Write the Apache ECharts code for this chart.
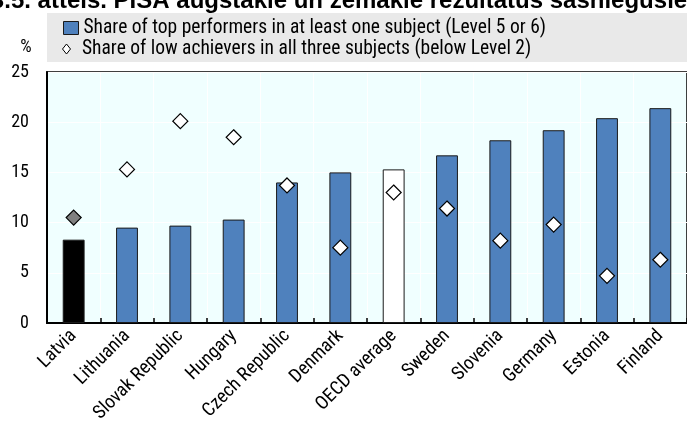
<!DOCTYPE html>
<html>
<head>
<meta charset="utf-8">
<script src="https://cdn.jsdelivr.net/npm/echarts@6/dist/echarts.min.js"></script>
<style>html,body{margin:0;padding:0;background:#fff}#c{width:687px;height:423px}</style>
</head>
<body>
<div id="c"></div>
<script>
const categories = ['Latvia','Lithuania','Slovak Republic','Hungary','Czech Republic','Denmark','OECD average','Sweden','Slovenia','Germany','Estonia','Finland'];
const topPerformers = [8.3, 9.5, 9.7, 10.3, 14.0, 15.0, 15.3, 16.7, 18.2, 19.2, 20.4, 21.4];
const lowAchievers = [10.5, 15.3, 20.1, 18.5, 13.7, 7.5, 13.0, 11.4, 8.2, 9.8, 4.7, 6.3];
const yTicks = [0, 5, 10, 15, 20, 25];
const seriesNames = ['Share of top performers in at least one subject (Level 5 or 6)', 'Share of low achievers in all three subjects (below Level 2)'];
const titleText = '3.5. attēls. PISA augstākie un zemākie rezultātus sasniegušie)';

const FONT = '"Roboto Condensed", "Liberation Sans", sans-serif';
const blue = '#4f81bd';

const barData = topPerformers.map((v, i) => {
  const c = categories[i];
  if (c === 'Latvia') return {value: v, itemStyle: {color: '#000000'}};
  if (c === 'OECD average') return {value: v, itemStyle: {color: '#ffffff'}};
  return v;
});
const scatterData = lowAchievers.map((v, i) => {
  if (categories[i] === 'Latvia') return {value: v, itemStyle: {color: '#808080'}};
  return v;
});

const chart = echarts.init(document.getElementById('c'), null, {renderer: 'canvas'});
chart.setOption({
  animation: false,
  textStyle: {fontFamily: FONT},
  graphic: [
    {type: 'rect', shape: {x: 47, y: 13, width: 640, height: 49}, style: {fill: '#e9e9e9'}, z: -10},
    {type: 'text', x: 343, y: 13, style: {text: titleText, font: 'bold 24px "Liberation Sans", Arial, sans-serif', fill: '#000', textAlign: 'center', textVerticalAlign: 'bottom'}},
    {type: 'text', x: 26, y: 47, style: {text: '%', font: '18px ' + FONT, fill: '#000', textAlign: 'center', textVerticalAlign: 'middle'}}
  ],
  legend: [
    {
      left: 63, top: 18, padding: 0,
      itemWidth: 15, itemHeight: 13,
      textStyle: {fontSize: 19.5, color: '#000', fontFamily: FONT},
      data: [{name: seriesNames[0], icon: 'rect', itemStyle: {color: blue, borderColor: '#1a1a1a', borderWidth: 1}}]
    },
    {
      left: 62, top: 39, padding: 0,
      itemWidth: 21, itemHeight: 10,
      symbolKeepAspect: true,
      textStyle: {fontSize: 19.5, color: '#000', fontFamily: FONT},
      data: [{name: seriesNames[1], icon: 'path://M4,0L8,5L4,10L0,5Z', itemStyle: {color: '#fff', borderColor: '#000', borderWidth: 1}}]
    }
  ],
  grid: {left: 47, right: 0, top: 72, bottom: 100, outerBoundsMode: 'none', containLabel: false, show: true, backgroundColor: '#f0ffff', borderColor: '#000', borderWidth: 1.5},
  xAxis: {
    type: 'category',
    data: categories,
    axisLine: {show: true, lineStyle: {color: '#000', width: 2}},
    axisTick: {show: true, inside: true, length: 5, lineStyle: {color: '#000', width: 1.5}},
    splitLine: {show: true, lineStyle: {color: '#ffffff', width: 1}},
    axisLabel: {rotate: 45, fontSize: 19, color: '#000', margin: 10, fontFamily: FONT, interval: 0}
  },
  yAxis: {
    type: 'value',
    min: yTicks[0],
    max: yTicks[yTicks.length - 1],
    interval: 5,
    axisLine: {show: true, lineStyle: {color: '#000', width: 2}},
    axisTick: {show: false},
    splitLine: {show: true, lineStyle: {color: '#ffffff', width: 1}},
    axisLabel: {fontSize: 18, color: '#000', margin: 18, fontFamily: FONT}
  },
  series: [
    {
      name: seriesNames[0],
      type: 'bar',
      data: barData,
      barWidth: '41%',
      itemStyle: {color: blue, borderColor: '#1a1a1a', borderWidth: 1}
    },
    {
      name: seriesNames[1],
      type: 'scatter',
      data: scatterData,
      symbol: 'diamond',
      symbolSize: [15, 15],
      itemStyle: {color: '#ffffff', borderColor: '#000', borderWidth: 1.2, opacity: 1},
      z: 5
    }
  ]
});
</script>
</body>
</html>
